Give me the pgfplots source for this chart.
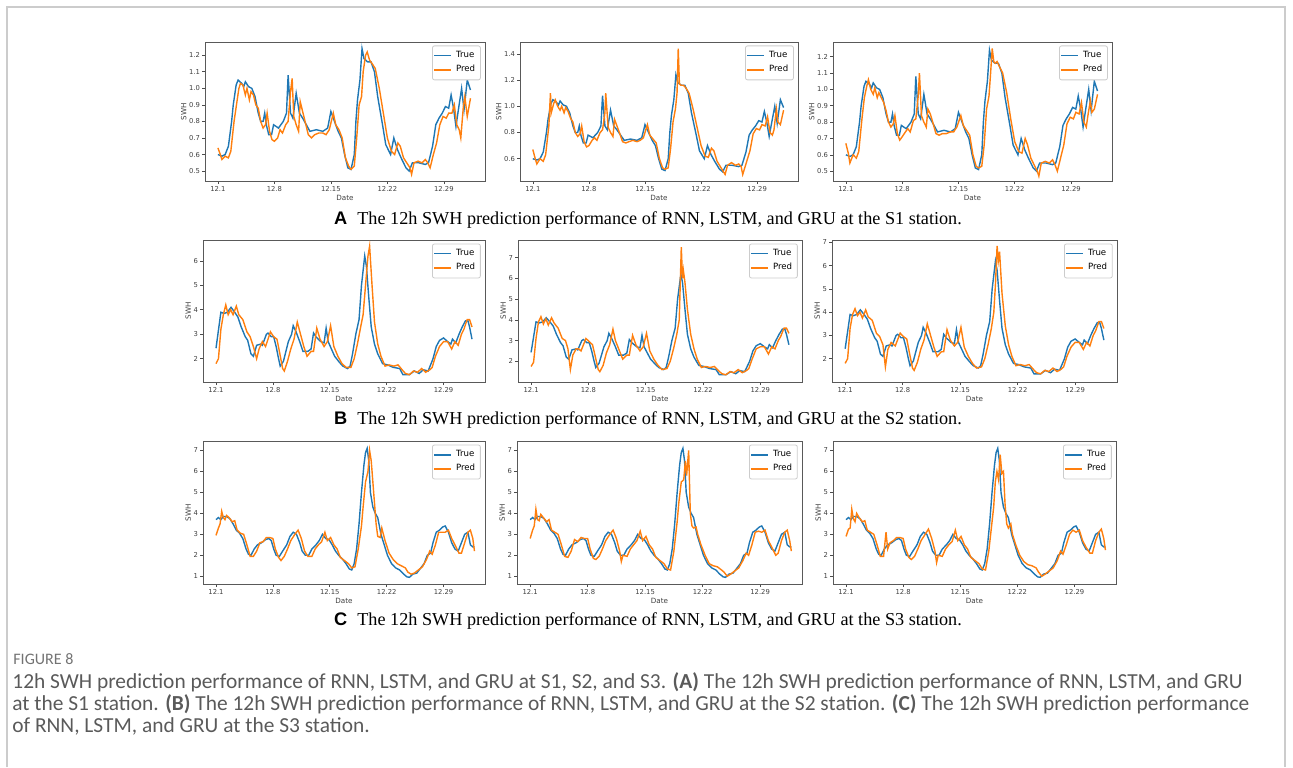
\documentclass[border=0pt]{standalone}
\usepackage{pgfplots}
\pgfplotsset{compat=1.18}
\usepackage{pgfplotstable}
\usepackage{fontspec}
\setmainfont{Liberation Serif}
\newfontfamily\tickfont{DejaVu Sans}
\newfontfamily\capfont{Carlito}
\newfontfamily\labfont{Liberation Sans}
\definecolor{tabblue}{HTML}{1F77B4}
\definecolor{taborange}{HTML}{FF7F0E}
\definecolor{capgray}{HTML}{5A5A5A}

% ---------------- Station S1 ----------------
\pgfplotstableread{
d v
0 0.60
0.5 0.59
0.9 0.60
1.3 0.65
1.7 0.80
1.9 0.90
2.26 1.02
2.5 1.05
2.95 1.03
3.2 1.01
3.4 1.04
3.8 1.01
4.2 1.00
4.6 0.95
5.0 0.85
5.3 0.80
5.6 0.80
5.8 0.85
6.0 0.78
6.3 0.72
6.65 0.72
6.9 0.78
7.5 0.76
8.1 0.80
8.5 0.85
8.7 1.08
9.0 0.85
9.3 0.82
9.7 0.97
10.1 0.85
10.5 0.82
10.96 0.78
11.4 0.74
12.2 0.75
13.0 0.74
13.6 0.76
14.0 0.86
14.45 0.80
14.9 0.74
15.3 0.70
15.7 0.60
16.1 0.52
16.5 0.51
16.9 0.60
17.1 0.80
17.3 0.93
17.6 1.05
17.86 1.24
18.1 1.18
18.55 1.16
18.97 1.16
19.4 1.10
19.8 0.95
20.4 0.78
20.8 0.66
21.4 0.60
21.8 0.70
22.25 0.63
22.7 0.58
23.3 0.52
23.7 0.50
24.1 0.55
24.9 0.55
25.7 0.54
26.1 0.55
26.6 0.65
27.0 0.78
27.4 0.82
27.8 0.85
28.2 0.89
28.6 0.88
28.9 0.96
29.2 0.88
29.5 0.77
29.8 0.87
30.2 1.00
30.5 0.87
30.9 1.05
31.3 0.99
}\trueA

\pgfplotstableread{
d v
0 0.64
0.3 0.60
0.5 0.57
0.9 0.59
1.3 0.58
1.6 0.62
2.0 0.80
2.3 0.90
2.6 1.00
2.8 1.03
3.1 1.02
3.4 0.96
3.6 1.00
3.9 0.93
4.1 0.98
4.4 0.96
4.7 0.90
5.0 0.88
5.3 0.80
5.6 0.76
5.9 0.78
6.1 0.85
6.4 0.74
6.7 0.69
7.0 0.68
7.4 0.70
7.7 0.75
8.0 0.73
8.4 0.78
8.7 0.80
9.0 0.98
9.2 1.06
9.4 0.83
9.7 0.78
10.0 0.74
10.2 0.92
10.5 0.86
10.8 0.80
11.2 0.72
11.6 0.70
12.0 0.72
12.5 0.73
13.0 0.73
13.4 0.72
13.8 0.75
14.3 0.85
14.6 0.78
15.0 0.75
15.4 0.70
15.8 0.58
16.2 0.53
16.5 0.51
16.9 0.53
17.2 0.70
17.5 0.90
17.8 0.95
18.0 1.10
18.3 1.20
18.5 1.22
18.8 1.17
19.1 1.15
19.5 1.12
20.0 1.00
20.5 0.85
21.0 0.70
21.5 0.62
21.9 0.60
22.3 0.67
22.6 0.65
23.0 0.58
23.4 0.55
23.8 0.52
24.0 0.48
24.3 0.55
24.8 0.56
25.3 0.55
25.7 0.57
26.0 0.55
26.3 0.52
26.7 0.60
27.1 0.67
27.5 0.78
27.9 0.83
28.3 0.82
28.6 0.85
29.0 0.85
29.3 0.90
29.6 0.78
29.9 0.75
30.1 0.70
30.4 0.88
30.6 0.95
30.9 0.83
31.3 0.94
}\predAa

\pgfplotstableread{
d v
0 0.67
0.3 0.60
0.5 0.56
0.9 0.60
1.3 0.58
1.6 0.63
2.0 0.85
2.2 1.10
2.3 0.95
2.6 1.02
2.8 1.05
3.1 1.00
3.4 0.97
3.6 1.00
3.9 0.95
4.1 0.99
4.4 0.96
4.7 0.91
5.0 0.88
5.3 0.80
5.6 0.77
5.9 0.79
6.1 0.85
6.4 0.73
6.7 0.69
7.0 0.70
7.4 0.74
7.7 0.76
8.0 0.74
8.4 0.80
8.7 0.82
9.0 0.95
9.1 1.10
9.4 0.84
9.7 0.80
10.0 0.77
10.2 0.90
10.5 0.85
10.8 0.80
11.2 0.73
11.6 0.72
12.0 0.73
12.5 0.74
13.0 0.73
13.4 0.74
13.8 0.76
14.3 0.86
14.6 0.78
15.0 0.75
15.4 0.72
15.8 0.60
16.2 0.53
16.5 0.52
16.9 0.53
17.2 0.68
17.5 0.88
17.8 0.98
18.0 1.10
18.15 1.44
18.3 1.17
18.5 1.16
18.8 1.16
19.1 1.14
19.5 1.10
20.0 0.98
20.5 0.84
21.0 0.70
21.5 0.62
21.9 0.61
22.3 0.68
22.6 0.66
23.0 0.58
23.4 0.54
23.8 0.50
24.0 0.48
24.3 0.55
24.8 0.57
25.3 0.55
25.7 0.56
26.0 0.54
26.2 0.48
26.7 0.58
27.1 0.66
27.5 0.79
27.9 0.83
28.3 0.82
28.6 0.86
29.0 0.85
29.3 0.92
29.6 0.80
29.9 0.78
30.1 0.82
30.4 0.98
30.6 0.88
30.9 0.86
31.3 0.97
}\predAb

\pgfplotstableread{
d v
0 0.67
0.3 0.61
0.5 0.55
0.9 0.60
1.3 0.58
1.6 0.62
2.0 0.82
2.3 0.95
2.6 1.02
2.8 1.06
3.1 1.00
3.4 0.97
3.6 1.01
3.9 0.95
4.1 0.98
4.4 0.95
4.7 0.92
5.0 0.87
5.3 0.80
5.6 0.77
5.9 0.79
6.1 0.84
6.4 0.73
6.7 0.69
7.0 0.71
7.4 0.74
7.7 0.76
8.0 0.74
8.4 0.81
8.7 0.82
9.0 0.96
9.15 1.10
9.4 0.84
9.7 0.80
10.0 0.77
10.2 0.88
10.5 0.85
10.8 0.80
11.2 0.73
11.6 0.72
12.0 0.73
12.5 0.73
13.0 0.74
13.4 0.74
13.8 0.77
14.3 0.84
14.6 0.78
15.0 0.75
15.4 0.72
15.8 0.60
16.2 0.53
16.5 0.52
16.9 0.53
17.2 0.66
17.5 0.88
17.8 0.96
18.0 1.10
18.2 1.25
18.4 1.17
18.6 1.16
18.8 1.17
19.1 1.14
19.5 1.10
20.0 0.98
20.5 0.82
21.0 0.68
21.5 0.62
21.9 0.61
22.3 0.70
22.6 0.66
23.0 0.58
23.4 0.54
23.8 0.50
24.0 0.47
24.3 0.55
24.8 0.56
25.3 0.55
25.7 0.57
26.0 0.54
26.3 0.50
26.7 0.58
27.1 0.66
27.5 0.79
27.9 0.83
28.3 0.82
28.6 0.86
29.0 0.85
29.3 0.92
29.6 0.80
29.9 0.77
30.1 0.84
30.4 0.93
30.6 0.86
30.9 0.88
31.3 0.97
}\predAc

% ---------------- Station S2 ----------------
\pgfplotstableread{
d v
0 2.43
0.6 3.9
1.0 3.85
1.4 3.9
1.85 4.1
2.3 3.9
2.7 3.7
3.1 3.3
3.6 2.9
3.9 2.75
4.3 2.2
4.6 2.1
5.0 2.55
5.5 2.6
5.7 2.55
6.2 3.0
6.4 3.05
6.8 2.9
7.1 2.9
7.4 2.5
7.7 2.0
7.9 1.7
8.3 1.9
8.6 2.3
8.9 2.7
9.3 3.0
9.5 3.35
9.85 3.1
10.3 2.7
10.7 2.3
11.3 2.3
11.7 2.4
12.0 3.05
12.3 2.9
12.9 2.7
13.3 2.65
13.55 3.25
13.8 2.7
14.2 2.4
14.6 2.1
15.2 1.85
15.6 1.7
16.2 1.6
16.5 1.7
16.8 2.2
17.2 3.0
17.6 3.6
17.9 5.0
18.3 6.2
18.5 5.8
18.8 4.5
19.1 3.3
19.5 2.6
19.9 2.2
20.5 1.8
21.1 1.75
21.8 1.65
22.6 1.6
23.0 1.35
23.8 1.35
24.4 1.5
25.0 1.4
25.5 1.55
26.1 1.5
26.7 2.0
27.1 2.5
27.5 2.75
28.0 2.85
28.5 2.7
28.9 2.6
29.1 2.8
29.5 2.65
29.9 3.0
30.3 3.3
30.7 3.55
31.0 3.55
31.2 3.3
31.5 2.8
}\trueB

\pgfplotstableread{
d v
0 1.8
0.3 2.0
0.6 3.2
0.9 3.8
1.2 4.2
1.5 3.8
1.8 4.0
2.1 3.8
2.5 4.15
2.8 3.8
3.3 3.6
3.8 3.1
4.2 2.9
4.6 2.5
5.0 2.0
5.3 2.4
5.7 2.7
6.1 2.5
6.7 3.1
7.1 2.9
7.5 2.8
7.8 2.3
8.2 1.6
8.4 1.5
8.8 1.9
9.2 2.4
9.6 2.8
10.0 3.5
10.4 3.0
10.8 2.5
11.2 2.1
11.7 2.3
12.0 2.3
12.4 3.25
12.8 2.8
13.3 2.5
13.7 2.7
14.1 3.35
14.5 2.5
15.0 2.1
15.5 1.8
16.0 1.65
16.6 1.65
17.0 2.0
17.4 2.6
17.8 3.3
18.1 3.8
18.4 5.0
18.7 6.2
18.9 6.6
19.2 5.0
19.5 3.5
19.9 2.6
20.3 2.1
20.8 1.7
21.3 1.75
21.9 1.7
22.4 1.75
22.9 1.55
23.3 1.4
23.8 1.35
24.3 1.5
24.8 1.45
25.3 1.6
25.8 1.45
26.3 1.55
26.6 1.65
27.0 2.1
27.5 2.5
28.0 2.7
28.5 2.7
29.0 2.4
29.4 2.7
29.8 2.55
30.2 3.0
30.5 3.2
30.9 3.6
31.2 3.6
31.5 3.3
}\predBa

\pgfplotstableread{
d v
0 1.75
0.3 1.95
0.6 3.1
0.9 3.9
1.2 4.15
1.5 3.8
1.8 4.05
2.1 3.75
2.5 4.1
2.8 3.85
3.3 3.6
3.8 3.1
4.2 3.0
4.5 2.6
4.8 1.6
5.1 2.3
5.5 2.6
5.8 2.6
6.1 2.5
6.7 3.1
7.1 2.95
7.5 2.8
7.8 2.3
8.2 1.6
8.4 1.5
8.8 1.8
9.2 2.4
9.6 2.8
10.0 3.55
10.3 3.0
10.8 2.5
11.2 2.1
11.7 2.3
12.0 2.3
12.4 3.25
12.8 2.8
13.3 2.5
13.7 2.7
14.1 3.35
14.5 2.5
15.0 2.1
15.5 1.8
16.0 1.6
16.6 1.65
17.0 2.0
17.4 2.6
17.8 3.3
18.1 4.0
18.35 7.5
18.5 6.0
18.6 6.4
18.8 5.8
19.1 4.5
19.5 3.3
19.9 2.6
20.3 2.1
20.8 1.7
21.3 1.75
21.9 1.7
22.4 1.75
22.9 1.55
23.3 1.4
23.8 1.35
24.3 1.5
24.8 1.45
25.3 1.6
25.8 1.45
26.3 1.55
26.6 1.65
27.0 2.1
27.5 2.6
28.0 2.7
28.5 2.7
29.0 2.35
29.4 2.7
29.8 2.6
30.2 3.0
30.5 3.2
30.9 3.6
31.2 3.6
31.5 3.35
}\predBb

\pgfplotstableread{
d v
0 1.8
0.3 2.0
0.6 3.3
0.9 3.9
1.2 4.15
1.5 3.85
1.8 4.0
2.1 3.75
2.5 4.1
2.8 3.8
3.3 3.65
3.8 3.1
4.2 2.95
4.6 2.6
4.9 1.65
5.2 2.4
5.6 2.7
6.1 2.55
6.7 3.1
7.1 2.95
7.5 2.85
7.8 2.3
8.2 1.6
8.4 1.5
8.8 1.85
9.2 2.4
9.6 2.8
10.0 3.5
10.4 3.0
10.8 2.5
11.2 2.1
11.7 2.3
12.0 2.3
12.4 3.25
12.8 2.8
13.3 2.55
13.7 2.7
14.1 3.35
14.5 2.5
15.0 2.1
15.5 1.8
16.0 1.6
16.6 1.65
17.0 2.0
17.4 2.6
17.8 3.3
18.1 4.0
18.3 5.2
18.5 6.85
18.65 6.2
18.8 6.6
19.1 4.8
19.5 3.4
19.9 2.6
20.3 2.1
20.8 1.7
21.3 1.75
21.9 1.7
22.4 1.75
22.9 1.55
23.3 1.4
23.8 1.35
24.3 1.5
24.8 1.45
25.3 1.6
25.8 1.45
26.3 1.55
26.6 1.65
27.0 2.1
27.5 2.5
28.0 2.7
28.5 2.7
29.0 2.4
29.4 2.7
29.8 2.55
30.2 3.0
30.5 3.2
30.9 3.6
31.2 3.6
31.5 3.3
}\predBc

% ---------------- Station S3 ----------------
\pgfplotstableread{
d v
0 3.7
0.3 3.8
0.6 3.7
0.9 3.85
1.3 3.85
1.7 3.75
2.1 3.5
2.5 3.2
2.9 3.05
3.3 2.8
3.7 2.3
4.0 2.05
4.3 2.0
4.7 2.3
5.1 2.5
5.6 2.6
6.1 2.75
6.5 2.8
6.8 2.7
7.1 2.3
7.4 2.0
7.8 1.95
8.2 2.2
8.7 2.5
9.1 2.9
9.5 3.1
9.9 3.0
10.3 2.6
10.6 2.2
11.0 2.0
11.4 2.0
11.8 2.3
12.3 2.5
12.7 2.7
13.1 3.0
13.5 2.8
13.9 2.75
14.3 2.5
14.7 2.2
15.1 2.0
15.6 1.8
16.0 1.6
16.4 1.35
16.7 1.3
17.0 1.6
17.3 2.3
17.6 3.5
17.9 5.0
18.2 6.3
18.4 6.9
18.6 7.1
18.8 6.5
19.0 5.0
19.3 4.3
19.6 4.0
19.9 3.8
20.3 3.0
20.7 2.5
21.1 2.0
21.6 1.6
22.1 1.4
22.6 1.3
23.1 1.1
23.5 0.97
23.8 0.95
24.2 1.1
24.7 1.15
25.2 1.4
25.6 1.6
26.0 2.0
26.4 2.1
26.7 2.6
27.1 3.1
27.5 3.2
27.9 3.35
28.2 3.4
28.6 3.1
29.0 2.6
29.4 2.3
29.8 2.2
30.2 2.6
30.6 3.0
31.0 3.1
31.3 2.5
31.6 2.4
31.8 2.4
}\trueC

\pgfplotstableread{
d v
0 2.95
0.3 3.3
0.5 3.5
0.7 4.1
0.9 3.8
1.1 3.7
1.3 3.9
1.6 3.8
2.0 3.6
2.3 3.65
2.6 3.2
3.0 3.05
3.4 3.0
3.8 2.5
4.2 1.95
4.6 1.95
5.0 2.2
5.4 2.6
5.8 2.65
6.2 2.85
6.6 2.85
7.0 2.8
7.3 2.3
7.7 1.9
8.0 1.75
8.4 1.95
8.8 2.3
9.2 2.7
9.7 3.0
10.1 3.2
10.5 2.8
10.9 2.2
11.3 1.95
11.8 1.95
12.2 2.3
12.6 2.5
13.0 2.65
13.4 3.1
13.7 2.7
14.1 2.85
14.5 2.5
14.9 2.3
15.3 1.9
15.8 1.75
16.3 1.6
16.7 1.4
17.1 1.45
17.5 2.3
17.9 3.4
18.1 4.3
18.4 5.5
18.7 6.0
18.9 7.0
19.1 6.5
19.4 5.0
19.7 3.5
19.9 2.9
20.2 2.85
20.4 3.3
20.8 2.7
21.3 2.1
21.8 1.8
22.3 1.6
22.8 1.5
23.3 1.4
23.6 1.2
24.0 1.1
24.4 1.15
24.9 1.3
25.4 1.45
25.9 1.8
26.3 2.2
26.6 2.05
27.0 2.5
27.4 3.1
27.8 3.1
28.2 3.1
28.6 3.2
29.0 2.8
29.4 2.5
29.9 2.1
30.2 2.1
30.6 2.6
31.0 3.1
31.3 3.2
31.6 2.8
31.8 2.2
}\predCa

\pgfplotstableread{
d v
0 2.8
0.3 3.2
0.5 3.4
0.7 4.2
0.9 3.7
1.1 3.65
1.3 3.95
1.6 3.8
2.0 3.6
2.3 3.7
2.6 3.2
3.0 3.1
3.4 3.0
3.8 2.5
4.2 1.95
4.6 1.9
5.0 2.2
5.4 2.75
5.8 2.65
6.2 2.85
6.6 2.8
7.0 2.8
7.3 2.3
7.7 1.85
8.0 1.8
8.4 1.95
8.8 2.3
9.2 2.7
9.7 3.0
10.1 3.2
10.5 2.8
10.9 2.2
11.1 1.7
11.3 2.0
11.8 1.95
12.2 2.3
12.6 2.5
13.0 2.7
13.4 3.15
13.7 2.7
14.1 2.9
14.5 2.5
14.9 2.3
15.3 1.9
15.8 1.75
16.3 1.6
16.7 1.35
17.1 1.3
17.5 2.2
17.9 3.6
18.1 4.5
18.4 5.5
18.7 5.6
18.9 6.5
19.05 5.8
19.3 7.0
19.5 4.0
19.7 3.4
19.9 3.3
20.2 3.35
20.4 3.0
20.8 2.5
21.3 2.0
21.8 1.6
22.3 1.5
22.8 1.45
23.3 1.3
23.6 1.2
24.0 1.0
24.4 1.1
24.9 1.25
25.4 1.4
25.9 1.75
26.3 2.1
26.6 2.0
27.0 2.5
27.4 3.1
27.8 3.15
28.2 3.1
28.6 3.2
29.0 2.7
29.4 2.4
29.9 2.0
30.2 2.1
30.6 2.7
31.0 3.1
31.3 3.2
31.6 2.7
31.8 2.2
}\predCb

\pgfplotstableread{
d v
0 2.9
0.3 3.25
0.5 3.3
0.7 4.2
0.9 3.75
1.1 3.6
1.3 4.0
1.6 3.8
2.0 3.6
2.3 3.65
2.6 3.2
3.0 3.1
3.4 3.0
3.8 2.5
4.2 1.95
4.6 1.95
4.9 3.1
5.1 2.3
5.4 2.6
5.8 2.7
6.2 2.85
6.6 2.85
7.0 2.8
7.3 2.3
7.7 1.9
8.0 1.8
8.4 1.95
8.8 2.3
9.2 2.7
9.7 3.0
10.1 3.25
10.5 2.8
10.9 2.2
11.1 1.65
11.3 2.0
11.8 1.95
12.2 2.3
12.6 2.5
13.0 2.65
13.4 3.2
13.7 2.7
14.1 2.9
14.5 2.5
14.9 2.3
15.3 1.9
15.8 1.75
16.3 1.6
16.7 1.35
17.1 1.3
17.5 2.2
17.9 3.6
18.1 4.3
18.3 5.5
18.5 6.0
18.7 5.6
18.9 6.8
19.1 5.9
19.3 6.0
19.5 4.4
19.7 3.5
19.9 3.3
20.2 3.5
20.4 3.0
20.8 2.5
21.3 2.0
21.8 1.7
22.3 1.55
22.8 1.5
23.3 1.4
23.6 1.2
24.0 1.0
24.4 1.1
24.9 1.25
25.4 1.4
25.9 1.75
26.3 2.2
26.6 2.05
27.0 2.5
27.4 3.0
27.8 3.2
28.2 3.1
28.6 3.2
29.0 2.7
29.4 2.4
29.9 2.1
30.2 2.1
30.6 2.7
31.0 3.1
31.3 3.25
31.6 2.8
31.8 2.25
}\predCc

\pgfplotsset{
  panel/.style={
    scale only axis, anchor=north west,
    xmin=-1.6, xmax=33.1,
    xtick={0,7,14,21,28},
    xticklabels={12.1,12.8,12.15,12.22,12.29},
    xtick pos=left, ytick pos=left, tick align=outside,
    major tick length=1.5pt,
    tick style={black!70, line width=0.3pt},
    axis line style={black!65, line width=0.4pt},
    ticklabel style={font=\tickfont\fontsize{3.4}{4}\selectfont, text=black!75, inner sep=0.8pt},
    /pgf/number format/assume math mode=true,
    xlabel={Date}, ylabel={SWH},
    label style={font=\tickfont\fontsize{3.6}{4}\selectfont, text=black!75},
    xlabel style={yshift=2.5pt}, ylabel style={yshift=-3pt},
    legend style={at={(0.985,0.975)}, anchor=north east,
      font=\tickfont\fontsize{4.3}{4.6}\selectfont, draw=black!20,
      rounded corners=1pt, inner sep=0.6pt, row sep=-1.6pt,
      cells={anchor=west}},
    legend cell align=left,
  },
  rowA/.style={ytick={0.5,0.6,0.7,0.8,0.9,1.0,1.1,1.2},
    yticklabel style={/pgf/number format/fixed, /pgf/number format/precision=1, /pgf/number format/fixed zerofill}},
  trueline/.style={tabblue, line width=0.7pt},
  predline/.style={taborange, line width=0.7pt},
  mylegimg/.style={legend image code/.code={\draw[line width=0.7pt, ##1] (0pt,0pt) -- (8.5pt,0pt);}},
}

\newcommand{\legendlines}{%
  \addlegendimage{tabblue, line width=0.75pt, mylegimg}
  \addlegendentry{True}
  \addlegendimage{taborange, line width=0.75pt, mylegimg}
  \addlegendentry{Pred}}

\begin{document}
\begin{tikzpicture}
\path[use as bounding box] (0,0) rectangle (646.5pt,-383.5pt);
\draw[black!20, line width=0.7pt] (3.5pt,-383.5pt) -- (3.5pt,-3.5pt) -- (642.5pt,-3.5pt) -- (642.5pt,-383.5pt);

% ---------------- Row A ----------------
\begin{axis}[panel, rowA, at={(102.5pt,-21pt)}, width=140pt, height=69.5pt, ymin=0.44, ymax=1.28]
\legendlines
\addplot[trueline, forget plot] table[x=d,y=v] {\trueA};
\addplot[predline, forget plot] table[x=d,y=v] {\predAa};
\end{axis}
\begin{axis}[panel, at={(260pt,-21pt)}, width=139pt, height=69.5pt, ymin=0.43, ymax=1.49,
  ytick={0.6,0.8,1.0,1.2,1.4},
  yticklabel style={/pgf/number format/fixed, /pgf/number format/precision=1, /pgf/number format/fixed zerofill}]
\legendlines
\addplot[trueline, forget plot] table[x=d,y=v] {\trueA};
\addplot[predline, forget plot] table[x=d,y=v] {\predAb};
\end{axis}
\begin{axis}[panel, rowA, at={(416.5pt,-21pt)}, width=139.5pt, height=69.5pt, ymin=0.44, ymax=1.29]
\legendlines
\addplot[trueline, forget plot] table[x=d,y=v] {\trueA};
\addplot[predline, forget plot] table[x=d,y=v] {\predAc};
\end{axis}
\node[anchor=center] at (324pt,-110pt) {{\labfont\bfseries\fontsize{9.1}{10}\selectfont A}\hspace{5pt}\fontsize{9.1}{10}\selectfont The 12h SWH prediction performance of RNN, LSTM, and GRU at the S1 station.};

% ---------------- Row B ----------------
\begin{axis}[panel, at={(101.5pt,-120pt)}, width=141pt, height=71pt, ymin=1.05, ymax=6.85, ytick={2,3,4,5,6}]
\legendlines
\addplot[trueline, forget plot] table[x=d,y=v] {\trueB};
\addplot[predline, forget plot] table[x=d,y=v] {\predBa};
\end{axis}
\begin{axis}[panel, at={(259pt,-120pt)}, width=142pt, height=71pt, ymin=1.0, ymax=7.85, ytick={2,3,4,5,6,7}]
\legendlines
\addplot[trueline, forget plot] table[x=d,y=v] {\trueB};
\addplot[predline, forget plot] table[x=d,y=v] {\predBb};
\end{axis}
\begin{axis}[panel, at={(416pt,-120pt)}, width=142.5pt, height=71pt, ymin=1.0, ymax=7.1, ytick={2,3,4,5,6,7}]
\legendlines
\addplot[trueline, forget plot] table[x=d,y=v] {\trueB};
\addplot[predline, forget plot] table[x=d,y=v] {\predBc};
\end{axis}
\node[anchor=center] at (324pt,-210pt) {{\labfont\bfseries\fontsize{9.1}{10}\selectfont B}\hspace{5pt}\fontsize{9.1}{10}\selectfont The 12h SWH prediction performance of RNN, LSTM, and GRU at the S2 station.};

% ---------------- Row C ----------------
\begin{axis}[panel, at={(101.5pt,-220.5pt)}, width=141pt, height=71.5pt, ymin=0.63, ymax=7.45, ytick={1,2,3,4,5,6,7}]
\legendlines
\addplot[trueline, forget plot] table[x=d,y=v] {\trueC};
\addplot[predline, forget plot] table[x=d,y=v] {\predCa};
\end{axis}
\begin{axis}[panel, at={(258.5pt,-220.5pt)}, width=142.5pt, height=71.5pt, ymin=0.63, ymax=7.45, ytick={1,2,3,4,5,6,7}]
\legendlines
\addplot[trueline, forget plot] table[x=d,y=v] {\trueC};
\addplot[predline, forget plot] table[x=d,y=v] {\predCb};
\end{axis}
\begin{axis}[panel, at={(416.5pt,-220.5pt)}, width=141.5pt, height=71.5pt, ymin=0.63, ymax=7.45, ytick={1,2,3,4,5,6,7}]
\legendlines
\addplot[trueline, forget plot] table[x=d,y=v] {\trueC};
\addplot[predline, forget plot] table[x=d,y=v] {\predCc};
\end{axis}
\node[anchor=center] at (324pt,-310.5pt) {{\labfont\bfseries\fontsize{9.1}{10}\selectfont C}\hspace{5pt}\fontsize{9.1}{10}\selectfont The 12h SWH prediction performance of RNN, LSTM, and GRU at the S3 station.};

% ---------------- Figure caption ----------------
\node[anchor=base west, inner sep=0pt, text=black!55] at (6.5pt,-332pt) {\capfont\fontsize{8}{9}\selectfont FIGURE 8};
\node[anchor=base west, inner sep=0pt, text=capgray] at (6pt,-344pt) {\capfont\fontsize{10.7}{11}\selectfont 12h SWH prediction performance of RNN, LSTM, and GRU at S1, S2, and S3. \textbf{(A)} The 12h SWH prediction performance of RNN, LSTM, and GRU};
\node[anchor=base west, inner sep=0pt, text=capgray] at (6pt,-355pt) {\capfont\fontsize{10.7}{11}\selectfont at the S1 station. \textbf{(B)} The 12h SWH prediction performance of RNN, LSTM, and GRU at the S2 station. \textbf{(C)} The 12h SWH prediction performance};
\node[anchor=base west, inner sep=0pt, text=capgray] at (6pt,-366pt) {\capfont\fontsize{10.7}{11}\selectfont of RNN, LSTM, and GRU at the S3 station.};
\end{tikzpicture}
\end{document}
